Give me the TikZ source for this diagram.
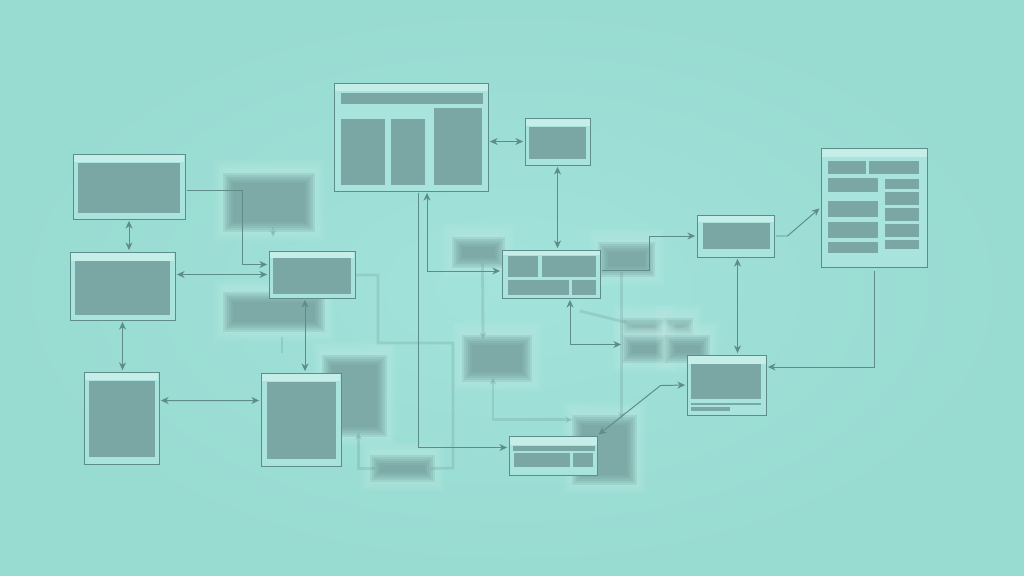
\documentclass[tikz,border=0pt]{standalone}
\usepackage{tikz}
\usetikzlibrary{arrows.meta,calc,fit,positioning}

\definecolor{bgteal}{RGB}{162,227,219}
\definecolor{bgdark}{RGB}{152,219,209}
\definecolor{winbg}{RGB}{168,228,221}
\definecolor{frameline}{RGB}{94,140,138}
\definecolor{panegrey}{RGB}{122,166,164}
\definecolor{headlight}{RGB}{198,238,232}
\definecolor{blurgrey}{RGB}{108,150,148}
\definecolor{blurglow}{RGB}{196,238,231}

% soft (out of focus) box: name, top left, bottom right
\newcommand{\blurbox}[3]{%
  \foreach \g in {0,2,...,10}
    \fill[blurglow,opacity=0.09] ($(#2)+(-4-\g,-8-\g)$) rectangle ($(#3)+(4+\g,4+\g)$);
  \foreach \g in {0,2,...,10}
    \fill[blurgrey,opacity=0.19] ($(#2)+(5-\g,5-\g)$) rectangle ($(#3)+(\g-5,\g-5)$);
  \node[ghost,fit={(#2) (#3)}] (#1) {};
}

\begin{document}
\begin{tikzpicture}[
  x=0.025cm, y=-0.025cm,
  >={Stealth[length=5.5pt,width=5pt]},
  win/.style={draw=frameline,line width=0.7pt,fill=winbg,inner sep=0pt},
  head/.style={fill=headlight},
  pane/.style={fill=panegrey},
  conn/.style={draw=frameline,line width=0.7pt,shorten <=1pt,shorten >=1pt},
  faint/.style={draw=blurgrey,line width=2pt,opacity=0.25},
  ghost/.style={inner sep=0pt}]
  \useasboundingbox (0,0) rectangle (1024,576);
  \shade[inner color=bgteal,outer color=bgdark] (0,0) rectangle (1024,576);

  % out of focus layer
  \blurbox{b1}{228,178}{310,227}
  \blurbox{b2}{228,297}{320,327}
  \blurbox{b3}{327,360}{382,432}
  \blurbox{b4}{375,460}{430,477}
  \blurbox{b5}{467,340}{527,377}
  \blurbox{b6}{457,242}{500,263}
  \blurbox{b7}{603,247}{650,272}
  \blurbox{b8a}{627,323}{660,330}
  \blurbox{b8b}{670,323}{688,330}
  \blurbox{b8c}{627,340}{662,358}
  \blurbox{b8d}{670,340}{705,358}
  \blurbox{b9}{577,420}{632,480}
  \node[ghost,fit=(b8a) (b8d)] (b8) {};
  \coordinate (b7s) at ($(b7.south)+(-5,0)$);
  \coordinate (dout) at (355,275);

  \draw[faint] (dout) -| (378,343) -| (453,468) -- (b4.east);
  \draw[faint,<-] ($(b3.south)+(4,0)$) |- (b4.west);
  \draw[faint,->] ($(b6.south)+(4,0)$) -- ($(b5.north)+(-14,0)$);
  \draw[faint,<->] ($(b5.south)+(-4,0)$) |- ($(b9.north west)+(-4,0)$);
  \draw[faint,->] (b7s) -- (b7s |- b9.north);
  \draw[faint] (580,311) -- (b8.north west);
  \draw[faint,->] ($(b1.south)+(4,0)$) -- ++(0,10);
  \draw[faint] ($(b2.south)+(8,10)$) -- ++(0,16);

  % windows in focus
  \node[win,fit={(73,154) (185,219)}] (A) {};
  \fill[head] ($(A.north west)+(1,1)$) rectangle ($(A.north east)+(-1,8)$);
  \fill[pane] (78,163) rectangle (180,213);

  \node[win,fit={(70,252) (175,320)}] (B) {};
  \fill[head] ($(B.north west)+(1,1)$) rectangle ($(B.north east)+(-1,9)$);
  \fill[pane] (75,261) rectangle (170,315);

  \node[win,fit={(84,372) (159,464)}] (C) {};
  \fill[head] ($(C.north west)+(1,1)$) rectangle ($(C.north east)+(-1,8)$);
  \fill[pane] (89,381) rectangle (155,457);

  \node[win,fit={(269,251) (355,298)}] (D) {};
  \fill[head] ($(D.north west)+(1,1)$) rectangle ($(D.north east)+(-1,7)$);
  \fill[pane] (273,258) rectangle (351,294);

  \node[win,fit={(261,373) (341,466)}] (E) {};
  \fill[head] ($(E.north west)+(1,1)$) rectangle ($(E.north east)+(-1,8)$);
  \fill[pane] (267,382) rectangle (336,459);

  \node[win,fit={(334,83) (488,191)}] (F) {};
  \fill[head] ($(F.north west)+(1,1)$) rectangle ($(F.north east)+(-1,8)$);
  \fill[pane] (341,93) rectangle (483,104);
  \fill[pane] (341,119) rectangle (385,185);
  \fill[pane] (391,119) rectangle (425,185);
  \fill[pane] (434,108) rectangle (482,185);

  \node[win,fit={(525,118) (590,165)}] (G) {};
  \fill[head] ($(G.north west)+(1,1)$) rectangle ($(G.north east)+(-1,8)$);
  \fill[pane] (529,127) rectangle (586,159);

  \node[win,fit={(502,250) (600,298)}] (H) {};
  \fill[head] ($(H.north west)+(1,1)$) rectangle ($(H.north east)+(-1,5)$);
  \fill[pane] (508,256) rectangle (538,277);
  \fill[pane] (542,256) rectangle (596,277);
  \fill[pane] (508,280) rectangle (569,295);
  \fill[pane] (572,280) rectangle (596,295);

  \node[win,fit={(697,215) (774,257)}] (I) {};
  \fill[head] ($(I.north west)+(1,1)$) rectangle ($(I.north east)+(-1,7)$);
  \fill[pane] (703,223) rectangle (770,249);

  \node[win,fit={(821,148) (927,267)}] (J) {};
  \fill[head] ($(J.north west)+(1,1)$) rectangle ($(J.north east)+(-1,9)$);
  \foreach \ya/\yb in {178/192,201/217,222/238,242/253}
    \fill[pane] (828,\ya) rectangle (878,\yb);
  \foreach \ya/\yb in {179/189,192/205,208/221,224/237,240/249}
    \fill[pane] (885,\ya) rectangle (919,\yb);
  \fill[pane] (828,161) rectangle (866,174);
  \fill[pane] (869,161) rectangle (919,174);

  \node[win,fit={(687,355) (766,415)}] (K) {};
  \fill[head] ($(K.north west)+(1,1)$) rectangle ($(K.north east)+(-1,9)$);
  \fill[pane] (691,364) rectangle (761,399);
  \fill[pane] (691,403) rectangle (761,405);
  \fill[pane] (691,407) rectangle (730,411);

  \node[win,fit={(509,436) (597,475)}] (L) {};
  \fill[head] ($(L.north west)+(1,1)$) rectangle ($(L.north east)+(-1,9)$);
  \fill[pane] (513,446) rectangle (595,451);
  \fill[pane] (514,453) rectangle (570,467);
  \fill[pane] (573,453) rectangle (593,467);

  % connectors
  \draw[conn,<->] (A.south) -- (A.south |- B.north);
  \draw[conn,<->] (B.east |- D.west) -- (D.west);
  \draw[conn,<->] (B.south) -- (B.south |- C.north);
  \draw[conn,<->] ($(C.north east)+(0,29)$) -- ($(E.north west)+(0,28)$);
  \draw[conn,<->] ($(D.south)+(-7,0)$) -- ($(E.north)+(4,0)$);
  \draw[conn,->] ($(A.east)+(0,4)$) -- ++(57,0) |- ($(D.west)+(0,-10)$);
  \draw[conn,<->] (F.east |- G.west) -- (G.west);
  \draw[conn,<->] (G.south) -- (G.south |- H.north);
  \draw[conn,->] ($(F.south)+(7,0)$) |- ($(L.west)+(0,-8)$);
  \draw[conn,<->] ($(F.south)+(16,0)$) |- ($(H.west)+(0,-3)$);
  \draw[conn,->] ($(H.east)+(0,-4)$) -- ++(49,0) |- (I.west);
  \draw[conn,<->] ($(H.south)+(19,0)$) |- ($(b8.west)+(-4,4)$);
  \draw[conn,<->] ($(I.south)+(2,0)$) -- ($(K.north)+(11,0)$);
  \draw[conn,->] (I.east) -- ++(13,0) -- (J.west);
  \draw[conn,->] ($(J.south)+(0,2)$) |- ($(K.east)+(0,-18)$);
  \draw[conn,<->] (L.north east) -- ++(63,-50) -- (K.west);
\end{tikzpicture}
\end{document}
